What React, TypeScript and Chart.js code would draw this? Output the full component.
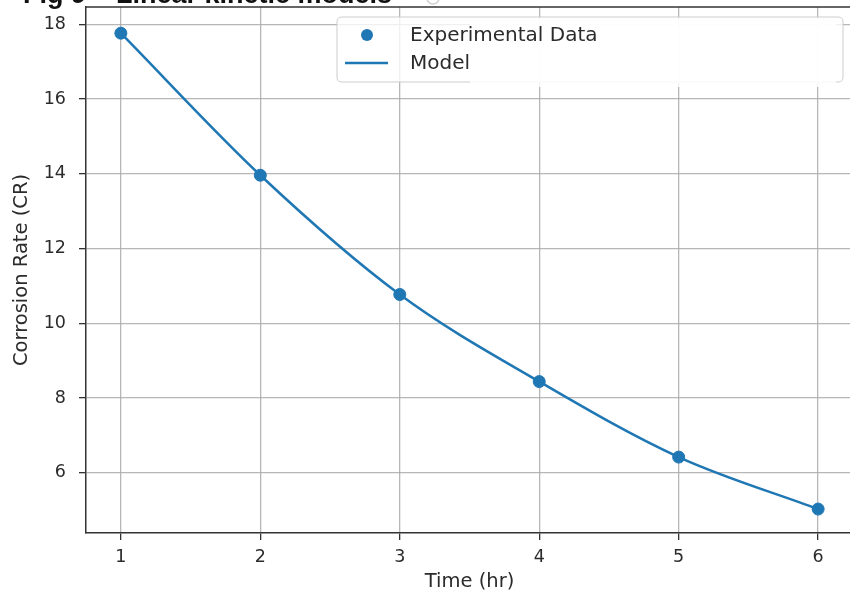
import React, { useEffect, useRef } from "react";
import { Chart, registerables } from "chart.js";

Chart.register(...registerables);

const timeHr = [1, 2, 3, 4, 5, 6];
const experimentalCR = [17.76, 13.96, 10.77, 8.44, 6.42, 5.03];
const modelCR = [17.76, 13.96, 10.77, 8.44, 6.42, 5.03];
const xTicks = [1, 2, 3, 4, 5, 6];
const yTicks = [6, 8, 10, 12, 14, 16, 18];
const titleText = "Fig 9 \u2013 Linear kinetic models";

const BLUE = "#1f77b4";
const TEXT = "#2b2b2b";
const GRID = "rgba(170,170,170,0.85)";
const SPINE = "#333333";
const FONT = "'DejaVu Sans', sans-serif";

const decorPlugin = {
  id: "decor",
  afterDraw(chart: any) {
    const { ctx, chartArea } = chart;
    ctx.save();
    // top spine
    ctx.strokeStyle = SPINE;
    ctx.lineWidth = 1.5;
    ctx.beginPath();
    ctx.moveTo(chartArea.left, chartArea.top);
    ctx.lineTo(chartArea.right, chartArea.top);
    ctx.stroke();

    // legend
    const lx = 337, ly = 17, lw = 506, lh = 65, r = 5;
    ctx.fillStyle = "rgba(255,255,255,0.8)";
    ctx.strokeStyle = "rgba(200,200,200,0.9)";
    ctx.lineWidth = 1;
    ctx.beginPath();
    ctx.moveTo(lx + r, ly);
    ctx.lineTo(lx + lw - r, ly);
    ctx.quadraticCurveTo(lx + lw, ly, lx + lw, ly + r);
    ctx.lineTo(lx + lw, ly + lh - r);
    ctx.quadraticCurveTo(lx + lw, ly + lh, lx + lw - r, ly + lh);
    ctx.lineTo(lx + r, ly + lh);
    ctx.quadraticCurveTo(lx, ly + lh, lx, ly + lh - r);
    ctx.lineTo(lx, ly + r);
    ctx.quadraticCurveTo(lx, ly, lx + r, ly);
    ctx.closePath();
    ctx.fill();
    ctx.stroke();
    // washed-out area of the legend
    ctx.fillStyle = "rgba(255,255,255,0.85)";
    ctx.fillRect(470, 19, 366, 68);

    ctx.fillStyle = BLUE;
    ctx.beginPath();
    ctx.arc(367, 35, 6, 0, Math.PI * 2);
    ctx.fill();
    ctx.strokeStyle = BLUE;
    ctx.lineWidth = 2.5;
    ctx.beginPath();
    ctx.moveTo(345, 63);
    ctx.lineTo(388, 63);
    ctx.stroke();
    ctx.fillStyle = TEXT;
    ctx.font = "20px " + FONT;
    ctx.textBaseline = "middle";
    ctx.textAlign = "left";
    ctx.fillText("Experimental Data", 410, 36);
    ctx.fillText("Model", 410, 64);

    // clipped title
    ctx.font = "bold 20px 'Liberation Sans', sans-serif";
    const w = ctx.measureText(titleText).width;
    const size = (20 * 369) / w;
    ctx.font = `bold ${size}px 'Liberation Sans', sans-serif`;
    ctx.fillStyle = "#111";
    ctx.textBaseline = "alphabetic";
    ctx.fillText(titleText, 23, 3);

    ctx.strokeStyle = "#cfcfcf";
    ctx.lineWidth = 1.5;
    ctx.beginPath();
    ctx.arc(433, -2, 6, 0, Math.PI * 2);
    ctx.stroke();
    ctx.restore();
  },
};

export default function App() {
  const ref = useRef<HTMLCanvasElement>(null);
  useEffect(() => {
    if (!ref.current) return;
    const chart = new Chart(ref.current, {
      type: "scatter",
      data: {
        datasets: [
          {
            label: "Experimental Data",
            data: timeHr.map((t, i) => ({ x: t, y: experimentalCR[i] })),
            backgroundColor: BLUE,
            borderColor: BLUE,
            pointRadius: 6,
            pointHoverRadius: 6,
            showLine: false,
            order: 2,
          },
          {
            label: "Model",
            data: timeHr.map((t, i) => ({ x: t, y: modelCR[i] })),
            borderColor: BLUE,
            backgroundColor: BLUE,
            borderWidth: 2.5,
            pointRadius: 0,
            showLine: true,
            cubicInterpolationMode: "monotone",
            order: 1,
          },
        ],
      },
      options: {
        responsive: false,
        animation: false,
        layout: { padding: { top: 7, right: 47, left: 0, bottom: 0 } },
        plugins: {
          legend: { display: false },
          tooltip: { enabled: false },
          title: { display: false },
        },
        scales: {
          x: {
            type: "linear",
            min: 0.75,
            max: 6.25,
            afterBuildTicks: (s: any) => {
              s.ticks = xTicks.map((v) => ({ value: v }));
            },
            afterFit: (s: any) => {
              s.height = 67;
              s.paddingLeft = 0;
              s.paddingRight = 0;
              s.paddingTop = 0;
              s.paddingBottom = 0;
            },
            grid: {
              color: GRID,
              lineWidth: 1.3,
              tickColor: SPINE,
              tickLength: 7,
              tickWidth: 1.3,
            },
            border: { display: true, color: SPINE, width: 1.5 },
            ticks: {
              color: TEXT,
              font: { family: FONT, size: 17.5 },
              padding: 7,
              maxRotation: 0,
              autoSkip: false,
            },
            title: {
              display: true,
              text: "Time (hr)",
              color: TEXT,
              font: { family: FONT, size: 19.5 },
              padding: { top: 0, bottom: 6 },
            },
          },
          y: {
            type: "linear",
            min: 4.39,
            max: 18.46,
            afterBuildTicks: (s: any) => {
              s.ticks = yTicks.map((v) => ({ value: v }));
            },
            afterFit: (s: any) => {
              s.width = 86;
              s.paddingLeft = 0;
              s.paddingRight = 0;
              s.paddingTop = 0;
              s.paddingBottom = 0;
            },
            grid: {
              color: GRID,
              lineWidth: 1.3,
              tickColor: SPINE,
              tickLength: 7,
              tickWidth: 1.3,
            },
            border: { display: true, color: SPINE, width: 1.5 },
            ticks: {
              color: TEXT,
              font: { family: FONT, size: 17.5 },
              padding: 13,
              autoSkip: false,
            },
            title: {
              display: true,
              text: "Corrosion Rate (CR)",
              color: TEXT,
              font: { family: FONT, size: 19.5 },
              padding: { top: 10, bottom: 0 },
            },
          },
        },
      },
      plugins: [decorPlugin],
    });
    return () => chart.destroy();
  }, []);
  return (
    <div
      style={{
        position: "absolute",
        left: 0,
        top: 0,
        width: 850,
        height: 600,
        overflow: "hidden",
        background: "#fff",
      }}
    >
      <canvas ref={ref} width={900} height={600} style={{ display: "block" }} />
    </div>
  );
}
